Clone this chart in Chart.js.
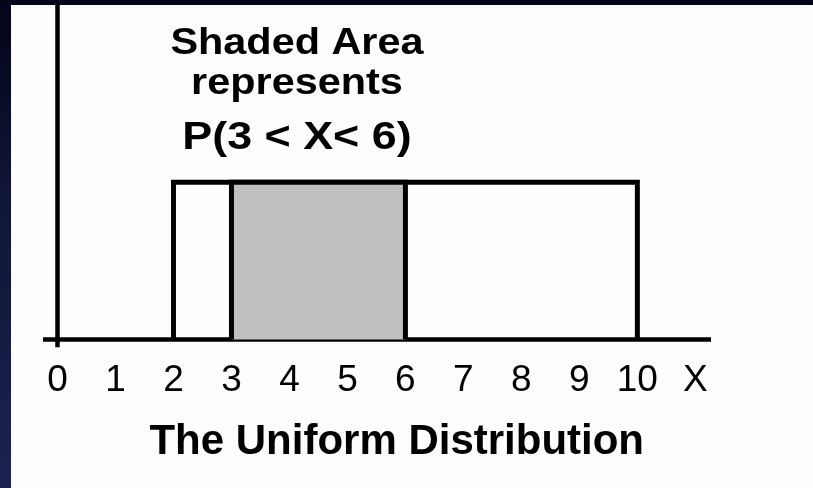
<!DOCTYPE html>
<html>
<head>
<meta charset="utf-8">
<script src="https://cdn.jsdelivr.net/npm/chart.js@4.4.1/dist/chart.umd.min.js"></script>
<style>
  html, body { margin: 0; padding: 0; }
  body {
    width: 813px; height: 488px; overflow: hidden; position: relative;
    background: linear-gradient(to bottom, #04041a 0%, #111534 40%, #1c2250 100%);
  }
  #sheet { position: absolute; left: 11px; top: 5px; width: 802px; height: 483px; background: #fdfdfd; }
</style>
</head>
<body>
<div id="sheet"><canvas id="chart" width="802" height="483"></canvas></div>
<script>
// values
const xTickValues = [0, 1, 2, 3, 4, 5, 6, 7, 8, 9, 10, 11];
const xTickLabels = ['0', '1', '2', '3', '4', '5', '6', '7', '8', '9', '10', 'X'];
const supportBounds = [2, 10];   // uniform on [2, 10]
const densityHeight = 1;         // drawn height of the rectangle
const shadedBounds = [3, 6];     // P(3 < X < 6)
const xRange = [-0.25, 11.27];
const yRange = [-0.051, 2.127];
const noteLines = ['Shaded Area', 'represents', 'P(3 < X< 6)'];
const axisTitle = 'The Uniform Distribution';

const FONT = "'Liberation Sans', Arial, sans-serif";

function boxPoints(bounds, h) {
    return [
        { x: bounds[0], y: 0 },
        { x: bounds[0], y: h },
        { x: bounds[1], y: h },
        { x: bounds[1], y: 0 }
    ];
}

const lineStyle = {
    showLine: true,
    borderColor: '#000',
    borderWidth: 5,
    borderJoinStyle: 'miter',
    pointRadius: 0,
    tension: 0
};

// text written on the figure
const notesPlugin = {
    id: 'notes',
    afterDatasetsDraw(chart) {
        const { ctx, chartArea, scales: { x } } = chart;
        ctx.save();
        ctx.fillStyle = '#000';
        ctx.textAlign = 'center';
        ctx.textBaseline = 'alphabetic';

        // note above the rectangle
        const noteX = x.getPixelForValue(4.13);
        const baselines = [49, 89, 144];
        const sizes = [36, 36, 39];
        noteLines.forEach((txt, i) => {
            ctx.save();
            ctx.font = `bold ${sizes[i]}px ${FONT}`;
            ctx.translate(noteX, baselines[i]);
            ctx.scale(1.15, 1);
            ctx.fillText(txt, 0, 0);
            ctx.restore();
        });

        // axis title
        ctx.font = `bold 42px ${FONT}`;
        ctx.fillText(axisTitle, x.getPixelForValue(5.85), chartArea.bottom + 106);
        ctx.restore();
    }
};

new Chart(document.getElementById('chart'), {
    type: 'scatter',
    data: {
        datasets: [
            { ...lineStyle, data: boxPoints(shadedBounds, densityHeight), fill: 'origin', backgroundColor: '#c0c0c0' },
            { ...lineStyle, data: boxPoints(supportBounds, densityHeight), fill: false },
            { ...lineStyle, data: [{ x: xRange[0], y: 0 }, { x: xRange[1], y: 0 }], fill: false, borderWidth: 4.5 },
            { ...lineStyle, data: [{ x: 0, y: yRange[0] }, { x: 0, y: yRange[1] }], fill: false, borderWidth: 4.5 }
        ]
    },
    options: {
        responsive: false,
        animation: false,
        layout: { padding: { left: 32, right: 102, top: 0, bottom: 74 } },
        plugins: {
            legend: { display: false },
            tooltip: { enabled: false }
        },
        scales: {
            x: {
                type: 'linear',
                min: xRange[0],
                max: xRange[1],
                grid: { display: false, drawTicks: false },
                border: { display: false },
                afterBuildTicks: (scale) => {
                    scale.ticks = xTickValues.map(v => ({ value: v }));
                },
                ticks: {
                    autoSkip: false,
                    maxRotation: 0,
                    padding: 11,
                    color: '#000',
                    font: { family: FONT, size: 37 },
                    callback: (v, i) => xTickLabels[i]
                }
            },
            y: {
                display: false,
                min: yRange[0],
                max: yRange[1]
            }
        }
    },
    plugins: [notesPlugin]
});
</script>
</body>
</html>
